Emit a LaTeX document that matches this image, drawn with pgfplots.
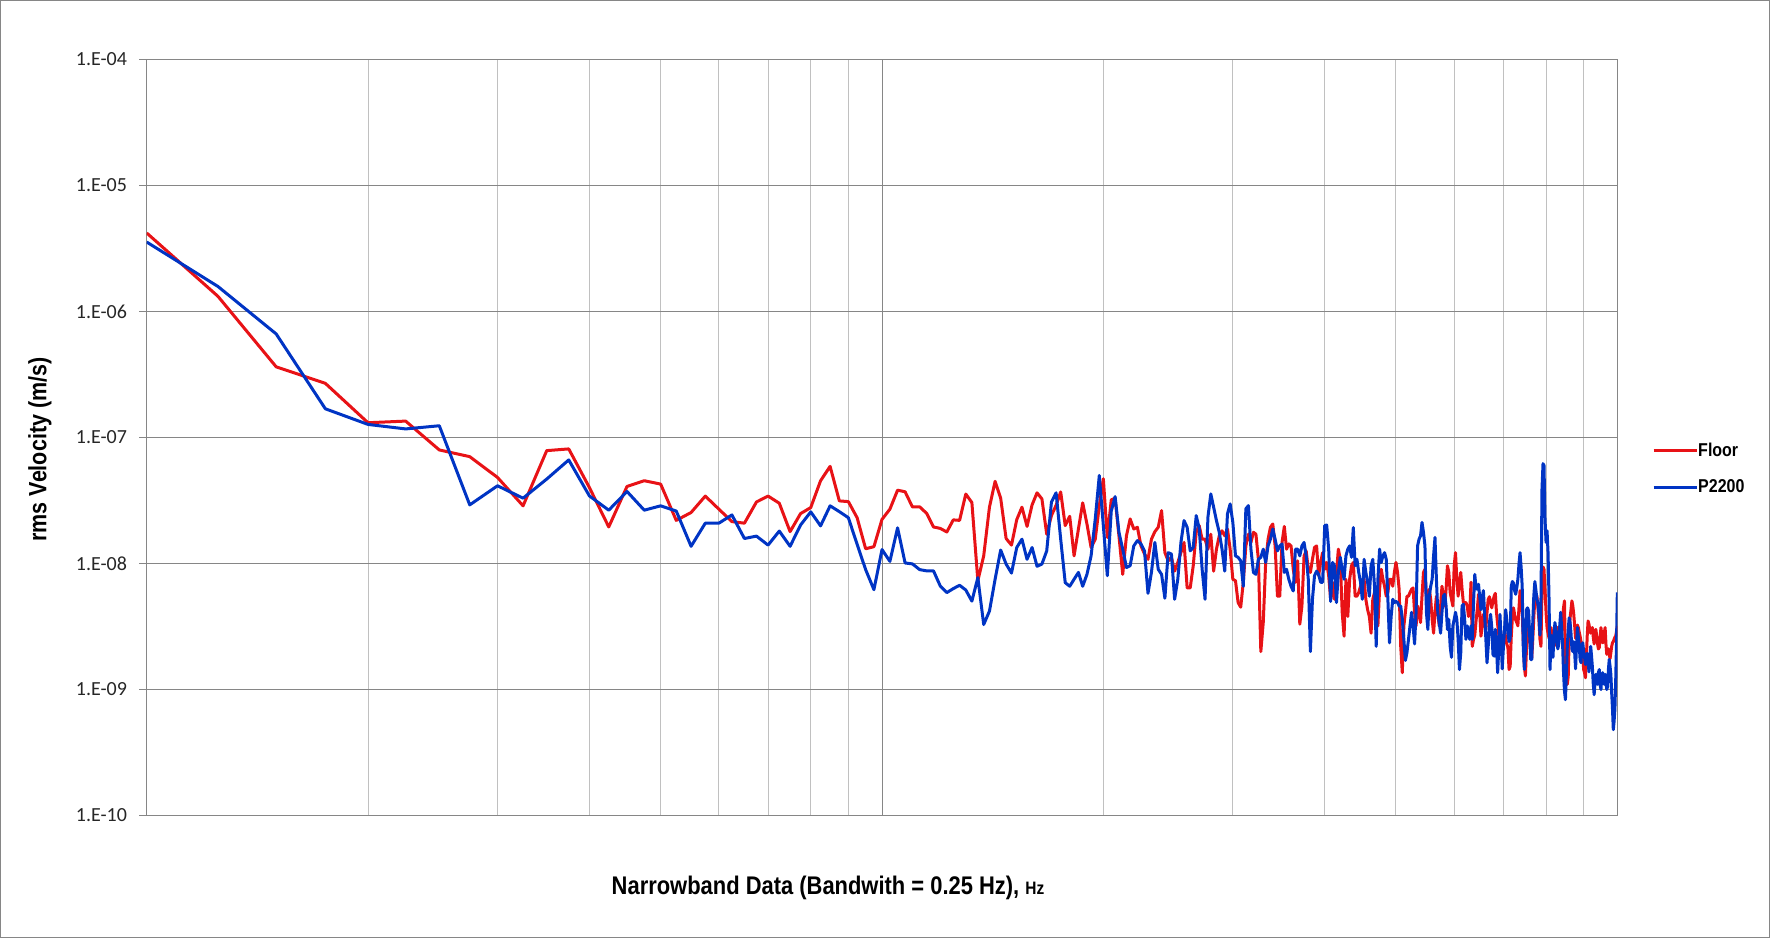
\documentclass[border=0pt]{standalone}
\usepackage{fontspec}
\setmainfont{Carlito}
\newfontfamily\nb{Liberation Sans}[FakeStretch=0.86]
\usepackage{pgfplots}
\usepackage{pgfplotstable}
\pgfplotsset{compat=1.18}
\definecolor{floorred}{RGB}{232,18,22}
\definecolor{pblue}{RGB}{0,52,196}
\definecolor{gridmaj}{RGB}{134,134,134}
\definecolor{gridmin}{RGB}{192,192,192}

\pgfplotstableread{
f floor p2200
1 4.2e-6 3.56e-6
1.25 1.32e-6 1.58e-6
1.5 3.64e-7 6.64e-7
1.75 2.69e-7 1.69e-7
2 1.31e-7 1.27e-7
2.25 1.35e-7 1.17e-7
2.5 7.97e-8 1.24e-7
2.75 7.05e-8 2.92e-8
3 4.82e-8 4.14e-8
3.25 2.87e-8 3.30e-8
3.5 7.87e-8 4.68e-8
3.75 8.12e-8 6.64e-8
4 4.01e-8 3.44e-8
4.25 1.95e-8 2.65e-8
4.5 4.09e-8 3.73e-8
4.75 4.54e-8 2.65e-8
5 4.27e-8 2.87e-8
5.25 2.20e-8 2.61e-8
5.5 2.54e-8 1.37e-8
5.75 3.43e-8 2.09e-8
6 2.70e-8 2.09e-8
6.25 2.15e-8 2.43e-8
6.5 2.09e-8 1.58e-8
6.75 3.08e-8 1.65e-8
7 3.43e-8 1.40e-8
7.25 3.01e-8 1.81e-8
7.5 1.79e-8 1.37e-8
7.75 2.49e-8 2.02e-8
8 2.78e-8 2.57e-8
8.25 4.54e-8 1.99e-8
8.5 5.90e-8 2.87e-8
8.75 3.14e-8 2.58e-8
9 3.10e-8 2.31e-8
9.25 2.31e-8 1.42e-8
9.5 1.31e-8 8.95e-9
9.75 1.36e-8 6.2e-9
10 2.24e-8 1.29e-8
10.25 2.70e-8 1.04e-8
10.5 3.82e-8 1.92e-8
10.75 3.71e-8 1.01e-8
11 2.81e-8 9.93e-9
11.25 2.82e-8 8.95e-9
11.5 2.5e-8 8.74e-9
11.75 1.95e-8 8.74e-9
12 1.9e-8 6.64e-9
12.25 1.78e-8 5.88e-9
12.5 2.22e-8 6.32e-9
12.75 2.2e-8 6.72e-9
13 3.56e-8 6.16e-9
13.25 3.05e-8 5.03e-9
13.5 7.3e-9 7.73e-9
13.75 1.15e-8 3.28e-9
14 2.80e-8 4.19e-9
14.25 4.49e-8 7.5e-9
14.5 3.30e-8 1.28e-8
14.75 1.58e-8 9.9e-9
15 1.40e-8 8.4e-9
15.25 2.23e-8 1.34e-8
15.5 2.80e-8 1.56e-8
15.75 1.97e-8 1.08e-8
16 2.92e-8 1.34e-8
16.25 3.64e-8 9.5e-9
16.5 3.26e-8 9.9e-9
16.75 1.71e-8 1.26e-8
17 2.40e-8 3.07e-8
17.25 2.9e-8 3.64e-8
17.5 3.7e-8 1.56e-8
17.75 2.0e-8 7.05e-9
18 2.37e-8 6.6e-9
18.25 1.15e-8 7.5e-9
18.5 1.88e-8 8.5e-9
18.75 3.03e-8 6.6e-9
19 2.06e-8 8.2e-9
19.25 1.34e-8 1.15e-8
19.5 1.56e-8 2.26e-8
19.75 2.88e-8 5.0e-8
20 4.71e-8 2.0e-8
20.25 1.61e-8 8.0e-9
20.5 3.2e-8 2.6e-8
20.75 3.3e-8 3.4e-8
21 1.66e-8 1.77e-8
21.25 8.2e-9 1.30e-8
21.5 1.66e-8 9.3e-9
21.75 2.26e-8 9.6e-9
22 1.88e-8 1.38e-8
22.25 1.94e-8 1.52e-8
22.5 1.38e-8 1.43e-8
22.75 1.19e-8 1.26e-8
23 1.08e-8 5.8e-9
23.25 1.56e-8 8.5e-9
23.5 1.79e-8 1.47e-8
23.75 1.94e-8 9.0e-9
24 2.63e-8 8.2e-9
24.25 1.22e-8 5.3e-9
24.5 1.05e-8 1.22e-8
24.75 1.12e-8 1.19e-8
25 8.7e-9 5.2e-9
25.25 1.02e-8 7.5e-9
25.5 1.22e-8 1.47e-8
25.75 1.47e-8 2.19e-8
26 6.4e-9 1.94e-8
26.25 6.4e-9 1.26e-8
26.5 9.6e-9 1.34e-8
26.75 1.77e-8 2.40e-8
27 2.0e-8 1.9e-8
27.25 1.56e-8 9.0e-9
27.5 1.56e-8 5.2e-9
27.75 1.30e-8 2.33e-8
28 1.71e-8 3.57e-8
28.25 8.7e-9 2.80e-8
28.5 1.30e-8 2.19e-8
28.75 1.66e-8 1.77e-8
29 1.82e-8 1.30e-8
29.25 1.66e-8 8.7e-9
29.5 1.88e-8 2.48e-8
29.75 1.30e-8 2.97e-8
30 7.5e-9 2.12e-8
30.25 7.3e-9 1.15e-8
30.5 4.9e-9 1.12e-8
30.75 4.5e-9 1.05e-8
31 7.1e-9 6.6e-9
31.25 1.38e-8 2.72e-8
31.5 1.71e-8 2.88e-8
31.75 1.47e-8 1.30e-8
32 1.77e-8 8.5e-9
32.25 1.71e-8 8.2e-9
32.5 1.08e-8 1.08e-8
32.75 2.0e-9 1.12e-8
33 3.4e-9 1.30e-8
33.25 1.02e-8 1.02e-8
33.5 1.56e-8 1.38e-8
33.75 1.94e-8 1.56e-8
34 2.06e-8 1.88e-8
34.25 1.38e-8 1.56e-8
34.5 5.5e-9 1.26e-8
34.75 5.5e-9 1.38e-8
35 1.47e-8 1.43e-8
35.25 1.97e-8 8.5e-9
35.5 1.30e-8 9.0e-9
35.75 1.43e-8 7.5e-9
36 1.38e-8 6.6e-9
36.25 9.0e-9 6.05e-9
36.5 7.1e-9 1.30e-8
36.75 1.05e-8 1.30e-8
37 3.3e-9 1.15e-8
37.25 4.6e-9 1.38e-8
37.5 1.15e-8 1.47e-8
37.75 1.26e-8 1.15e-8
38 9.0e-9 7.5e-9
38.25 8.5e-9 2.0e-9
38.5 1.08e-8 5.2e-9
38.75 1.34e-8 8.0e-9
39 1.38e-8 8.7e-9
39.25 8.0e-9 8.2e-9
39.5 1.02e-8 7.1e-9
39.75 1.22e-8 7.1e-9
40 9.0e-9 2.0e-8
40.25 1.02e-8 2.02e-8
40.5 8.0e-9 1.30e-8
40.75 5.2e-9 5.0e-9
41 7.1e-9 1.02e-8
41.25 5.2e-9 9.6e-9
41.5 8.5e-9 4.9e-9
41.75 1.30e-8 8.5e-9
42 1.08e-8 1.12e-8
42.25 4.1e-9 9.0e-9
42.5 2.65e-9 7.5e-9
42.75 7.5e-9 1.15e-8
43 3.8e-9 1.30e-8
43.25 7.5e-9 1.38e-8
43.5 9.6e-9 1.12e-8
43.75 1.02e-8 1.93e-8
44 5.5e-9 9.6e-9
44.25 5.5e-9 1.08e-8
44.5 5.9e-9 8.5e-9
44.75 6.6e-9 7.1e-9
45 7.3e-9 5.2e-9
45.25 7.5e-9 1.08e-8
45.5 5.2e-9 8.5e-9
45.75 4.3e-9 7.1e-9
46 3.8e-9 5.5e-9
46.25 2.8e-9 9.6e-9
46.5 5.2e-9 1.08e-8
46.75 5.9e-9 6.6e-9
47 3.6e-9 2.2e-9
47.25 3.2e-9 7.5e-9
47.5 6.25e-9 1.30e-8
47.75 9.0e-9 1.02e-8
48 7.5e-9 1.15e-8
48.25 6.6e-9 1.22e-8
48.5 5.5e-9 1.08e-8
48.75 5.9e-9 5.2e-9
49 7.5e-9 2.35e-9
49.25 7.5e-9 3.8e-9
49.5 6.6e-9 5.2e-9
49.75 8.5e-9 4.9e-9
50 1.02e-8 5.0e-9
50.25 8.5e-9 4.9e-9
50.5 6.25e-9 4.6e-9
50.75 2.2e-9 4.6e-9
51 1.36e-9 3.6e-9
51.25 3.2e-9 2.5e-9
51.5 4.1e-9 1.7e-9
51.75 5.5e-9 1.96e-9
52 5.5e-9 2.5e-9
52.25 5.9e-9 3.2e-9
52.5 6.25e-9 4.1e-9
52.75 6.4e-9 3.2e-9
53 4.1e-9 2.3e-9
53.25 3.2e-9 4.1e-9
53.5 4.6e-9 1.38e-8
53.75 4.1e-9 1.56e-8
54 3.4e-9 1.66e-8
54.25 5.5e-9 2.12e-8
54.5 8.5e-9 1.77e-8
54.75 9.0e-9 1.38e-8
55 5.2e-9 4.1e-9
55.25 4.1e-9 3.0e-9
55.5 6.25e-9 5.5e-9
55.75 5.2e-9 6.6e-9
56 3.6e-9 7.5e-9
56.25 2.8e-9 1.15e-8
56.5 4.1e-9 1.61e-8
56.75 5.5e-9 7.5e-9
57 4.1e-9 4.1e-9
57.25 3.2e-9 3.4e-9
57.5 4.6e-9 2.8e-9
57.75 6.6e-9 4.1e-9
58 5.5e-9 5.5e-9
58.25 4.6e-9 5.7e-9
58.5 6.25e-9 4.6e-9
58.75 9.6e-9 3.0e-9
59 8.5e-9 3.6e-9
59.25 5.9e-9 2.2e-9
59.5 5.2e-9 1.8e-9
59.75 4.6e-9 3.2e-9
60 9.6e-9 3.6e-9
60.25 1.22e-8 4.1e-9
60.5 7.5e-9 3.6e-9
60.75 5.5e-9 2.5e-9
61 7.1e-9 1.44e-9
61.25 8.5e-9 1.96e-9
61.5 6.25e-9 4.6e-9
61.75 4.9e-9 4.75e-9
62 4.9e-9 3.6e-9
62.25 4.9e-9 2.5e-9
62.5 4.6e-9 3.2e-9
62.75 3.8e-9 2.8e-9
63 4.1e-9 2.5e-9
63.25 7.1e-9 3.2e-9
63.5 2.2e-9 2.5e-9
63.75 2.5e-9 4.9e-9
64 2.7e-9 8.2e-9
64.25 3.5e-9 6.4e-9
64.5 4.3e-9 6.25e-9
64.75 5.7e-9 6.85e-9
65 4.1e-9 5.4e-9
65.25 2.65e-9 4.3e-9
65.5 3.2e-9 5.4e-9
65.75 3.95e-9 6.1e-9
66 3.3e-9 3.95e-9
66.25 3.0e-9 2.55e-9
66.5 4.1e-9 1.63e-9
66.75 5.2e-9 2.2e-9
67 5.45e-9 3.4e-9
67.25 4.9e-9 3.95e-9
67.5 4.45e-9 3.1e-9
67.75 5.05e-9 1.9e-9
68 5.5e-9 1.84e-9
68.25 5.8e-9 3.0e-9
68.5 4.1e-9 2.2e-9
68.75 3.3e-9 1.36e-9
69 2.7e-9 2.15e-9
69.25 2.2e-9 3.95e-9
69.5 2.15e-9 2.5e-9
69.75 2.0e-9 1.46e-9
70 2.35e-9 2.15e-9
70.25 3.0e-9 3.0e-9
70.5 2.55e-9 4.3e-9
70.75 2.3e-9 3.6e-9
71 2.15e-9 2.8e-9
71.25 1.44e-9 2.4e-9
71.5 1.53e-9 2.55e-9
71.75 2.65e-9 6.6e-9
72 3.7e-9 7.2e-9
72.25 4.45e-9 7.0e-9
72.5 3.95e-9 6.1e-9
72.75 3.55e-9 5.7e-9
73 3.4e-9 6.4e-9
73.25 3.2e-9 7.5e-9
73.5 4.45e-9 9.9e-9
73.75 6.1e-9 1.22e-8
74 4.9e-9 9.3e-9
74.25 4.1e-9 6.6e-9
74.5 2.4e-9 2.15e-9
74.75 1.53e-9 1.44e-9
75 1.28e-9 2.1e-9
75.25 2.1e-9 4.3e-9
75.5 3.4e-9 4.45e-9
75.75 3.3e-9 4.2e-9
76 2.6e-9 2.7e-9
76.25 2.1e-9 1.73e-9
76.5 1.78e-9 1.73e-9
76.75 2.5e-9 3.5e-9
77 3.7e-9 5.5e-9
77.25 5.3e-9 7.2e-9
77.5 5.7e-9 6.2e-9
77.75 5.5e-9 5.2e-9
78 4.45e-9 4.75e-9
78.25 3.5e-9 3.95e-9
78.5 2.5e-9 2.7e-9
78.75 2.2e-9 4.9e-9
79 6.25e-9 3.9e-8
79.25 9.4e-9 6.2e-8
79.5 9.0e-9 6.0e-8
79.75 6.25e-9 2.25e-8
80 4.1e-9 1.47e-8
80.25 3.1e-9 1.82e-8
80.5 2.8e-9 1.22e-8
80.75 2.55e-9 5.2e-9
81 2.8e-9 1.44e-9
81.25 3.1e-9 2.7e-9
81.5 2.7e-9 2.5e-9
81.75 2.4e-9 1.8e-9
82 2.2e-9 2.65e-9
82.25 2.3e-9 3.4e-9
82.5 2.5e-9 3.0e-9
82.75 2.7e-9 2.4e-9
83 3.1e-9 2.1e-9
83.25 3.0e-9 2.3e-9
83.5 2.7e-9 3.2e-9
83.75 2.55e-9 4.1e-9
84 3.0e-9 3.1e-9
84.25 3.7e-9 2.3e-9
84.5 4.45e-9 1.36e-9
84.75 5.05e-9 9.7e-10
85 1.67e-9 8.3e-10
85.25 1.24e-9 1.27e-9
85.5 1.1e-9 2.2e-9
85.75 1.27e-9 3.0e-9
86 2.5e-9 3.7e-9
86.25 3.7e-9 3.4e-9
86.5 4.3e-9 2.8e-9
86.75 5.05e-9 2.1e-9
87 4.6e-9 2.0e-9
87.25 3.95e-9 2.4e-9
87.5 3.2e-9 1.96e-9
87.75 2.55e-9 1.46e-9
88 2.8e-9 2.2e-9
88.25 3.25e-9 3.1e-9
88.5 3.1e-9 2.65e-9
88.75 2.85e-9 2.25e-9
89 2.65e-9 1.73e-9
89.25 2.4e-9 1.63e-9
89.5 2.3e-9 2.2e-9
89.75 1.84e-9 2.35e-9
90 1.44e-9 2.0e-9
90.25 1.36e-9 1.8e-9
90.5 1.24e-9 1.58e-9
90.75 1.73e-9 1.68e-9
91 2.65e-9 1.94e-9
91.25 3.5e-9 1.68e-9
91.5 3.3e-9 1.38e-9
91.75 3.0e-9 1.73e-9
92 2.8e-9 2.2e-9
92.25 3.0e-9 1.84e-9
92.5 3.1e-9 1.49e-9
92.75 2.6e-9 1.1e-9
93 2.3e-9 9.1e-10
93.25 2.65e-9 1.13e-9
93.5 3.0e-9 1.32e-9
93.75 2.65e-9 1.16e-9
94 2.3e-9 1.1e-9
94.25 2.1e-9 1.36e-9
94.5 2.15e-9 1.44e-9
94.75 2.6e-9 1.1e-9
95 3.1e-9 1.0e-9
95.25 2.7e-9 1.27e-9
95.5 2.35e-9 1.36e-9
95.75 2.4e-9 1.13e-9
96 2.8e-9 1.1e-9
96.25 3.1e-9 1.32e-9
96.5 2.3e-9 1.16e-9
96.75 1.9e-9 1.0e-9
97 2.1e-9 1.06e-9
97.25 2.1e-9 1.44e-9
97.5 1.9e-9 1.73e-9
97.75 1.76e-9 1.53e-9
98 1.96e-9 1.32e-9
98.25 2.2e-9 9.4e-10
98.5 2.35e-9 7.0e-10
98.75 2.4e-9 4.8e-10
99 2.5e-9 5.6e-10
99.25 2.6e-9 7.0e-10
99.5 2.65e-9 1.2e-9
99.75 2.9e-9 2.35e-9
100 3.2e-9 5.9e-9
}\spectab

\begin{document}
\begin{tikzpicture}
\useasboundingbox (0,0) rectangle (1770pt,938pt);
\draw[gridmaj, line width=1pt] (0.5pt,0.5pt) rectangle (1769.5pt,937.5pt);
\begin{axis}[
  at={(146.7pt,122.5pt)}, anchor=south west,
  scale only axis, width=1470.6pt, height=756pt,
  xmode=log, ymode=log,
  xmin=1, xmax=100, ymin=1e-10, ymax=1e-4,
  xtick={1,10,100}, xticklabels={},
  minor xtick={2,3,4,5,6,7,8,9,20,30,40,50,60,70,80,90},
  minor ytick={},
  xtick style={draw=none},
  minor tick length=0pt,
  xmajorgrids, xminorgrids, ymajorgrids,
  major x grid style={gridmaj, line width=1pt},
  minor x grid style={gridmin, line width=1pt},
  major y grid style={gridmaj, line width=1pt},
  ytick={1e-10,1e-9,1e-8,1e-7,1e-6,1e-5,1e-4},
  yticklabels={1.E-10,1.E-09,1.E-08,1.E-07,1.E-06,1.E-05,1.E-04},
  ytick pos=left, tick align=outside, major tick length=7.5pt,
  ytick style={gridmaj, line width=1pt},
  axis line style={gridmaj, line width=1pt},
  yticklabel style={font=\fontsize{20}{20}\selectfont, text=black!85, anchor=east, inner sep=0pt, xshift=-12pt},
  xlabel={Narrowband Data (Bandwith = 0.25 Hz), {\fontsize{18}{18}\selectfont Hz}},
  xlabel style={at={(axis description cs:0.4633,-0.0955)}, anchor=center, inner sep=0pt, font=\nb\bfseries\fontsize{25.5}{26}\selectfont},
  ylabel={rms Velocity (m/s)},
  ylabel style={at={(axis description cs:-0.0726,0.4841)}, anchor=center, inner sep=0pt, font=\nb\bfseries\fontsize{25}{26}\selectfont},
  legend style={at={(1,0.5)}, anchor=west, xshift=34.7pt, yshift=-31pt, draw=none, fill=none,
    font=\nb\bfseries\fontsize{18.6}{19}\selectfont, inner sep=0pt, row sep=22pt,
    nodes={inner sep=0pt, anchor=west},
    /tikz/every even column/.append style={column sep=4pt}},
  legend cell align=left,
  legend image code/.code={\draw[#1, line width=3pt] (0pt,0pt) -- (43pt,0pt);},
]
\addplot[floorred, line width=3pt, line join=round] table[x=f, y=floor] {\spectab};
\addlegendentry{Floor}
\addplot[pblue, line width=3pt, line join=round] table[x=f, y=p2200] {\spectab};
\addlegendentry{P2200}
\end{axis}
\end{tikzpicture}
\end{document}
